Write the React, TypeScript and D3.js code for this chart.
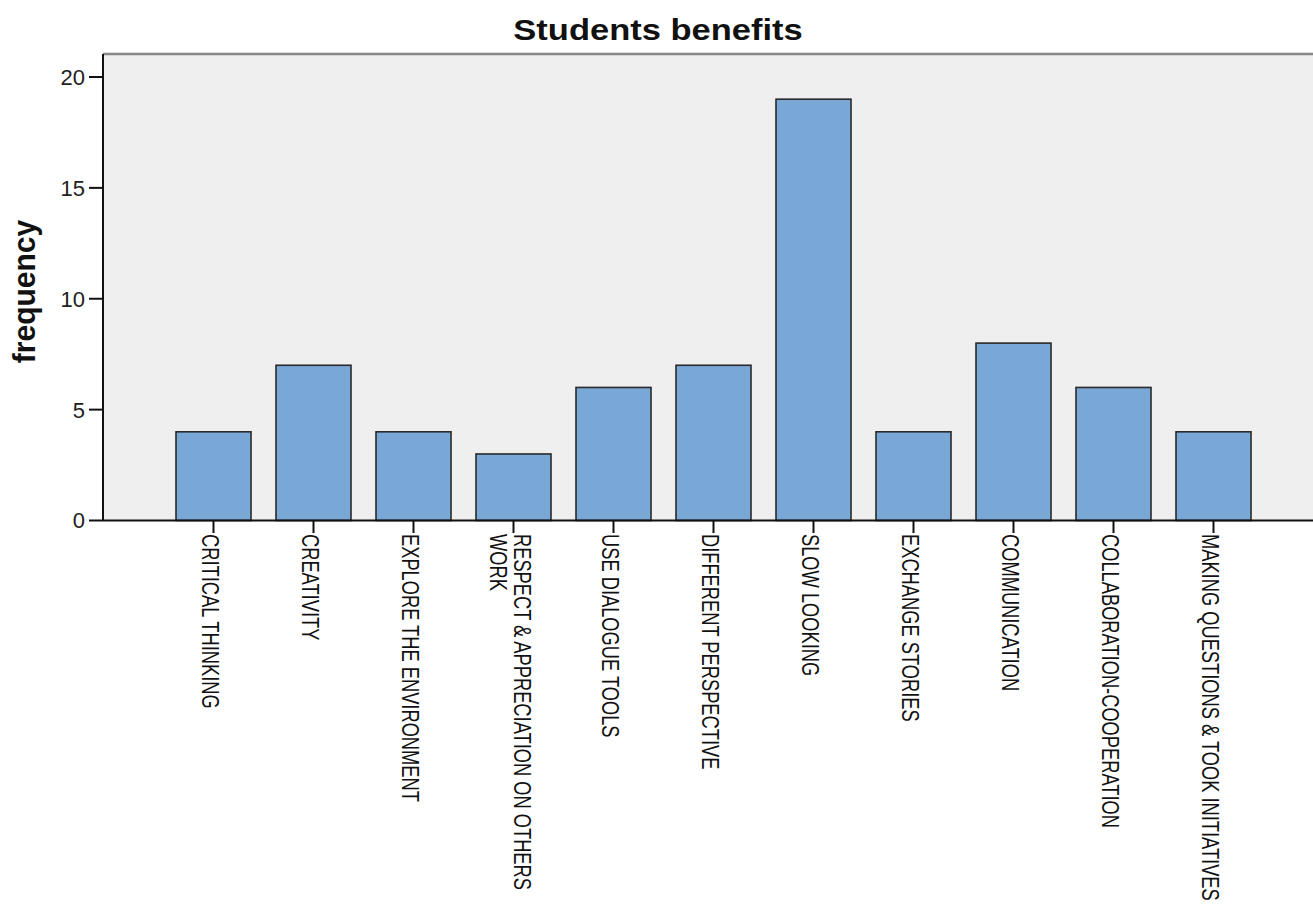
import React from "react";
import * as d3 from "d3";

const title = "Students benefits";
const yAxisTitle = "frequency";
const categories: string[][] = [
  ["CRITICAL THINKING"],
  ["CREATIVITY"],
  ["EXPLORE THE ENVIRONMENT"],
  ["RESPECT & APPRECIATION ON OTHERS", "WORK"],
  ["USE DIALOGUE TOOLS"],
  ["DIFFERENT PERSPECTIVE"],
  ["SLOW LOOKING"],
  ["EXCHANGE STORIES"],
  ["COMMUNICATION"],
  ["COLLABORATION-COOPERATION"],
  ["MAKING QUESTIONS & TOOK INITIATIVES"],
];
const values: number[] = [4, 7, 4, 3, 6, 7, 19, 4, 8, 6, 4];
const yTicks: number[] = [0, 5, 10, 15, 20];

const W = 1313;
const H = 909;
const plotLeft = 103;
const plotTop = 54;
const plotRight = 1313;
const FONT = "'Liberation Sans', Arial, sans-serif";

export default function App() {
  const keys = categories.map((c) => c.join(" "));
  const x = d3
    .scaleBand<string>()
    .domain(keys)
    .range([163.5, 1263.5])
    .paddingInner(0.25)
    .paddingOuter(0.125);
  const y = d3.scaleLinear().domain([0, 20]).range([520.5, 77]);
  const labelFs = 18.3;
  const labelScale = 1.28;
  const lineStep = 24 / labelScale;

  return (
    <svg
      width={W}
      height={H}
      style={{ position: "absolute", left: 0, top: 0, background: "#fff" }}
      fontFamily={FONT}
    >
      <rect x={plotLeft} y={plotTop} width={plotRight - plotLeft} height={y(0) - plotTop} fill="#efefef" />
      <line x1={plotLeft} x2={plotRight} y1={plotTop} y2={plotTop} stroke="#888" strokeWidth={2.5} />
      {values.map((v, i) => (
        <rect
          key={i}
          x={x(keys[i])!}
          y={y(v)}
          width={x.bandwidth()}
          height={y(0) - y(v)}
          fill="#79a8d6"
          stroke="#2a2a2a"
          strokeWidth={1.6}
        />
      ))}
      <line x1={plotLeft} x2={plotLeft} y1={plotTop} y2={y(0)} stroke="#111" strokeWidth={2} />
      <line x1={plotLeft} x2={plotRight} y1={y(0)} y2={y(0)} stroke="#111" strokeWidth={2} />
      {yTicks.map((t) => (
        <g key={t}>
          <line x1={89} x2={plotLeft} y1={y(t)} y2={y(t)} stroke="#111" strokeWidth={2} />
          <text x={85} y={y(t)} dy="0.36em" textAnchor="end" fontSize={22} fill="#222">
            {t}
          </text>
        </g>
      ))}
      {keys.map((k, i) => {
        const cx = x(k)! + x.bandwidth() / 2;
        const lines = categories[i];
        const n = lines.length;
        return (
          <g key={k}>
            <line x1={cx} x2={cx} y1={y(0)} y2={533} stroke="#111" strokeWidth={2} />
            <g transform={`translate(${cx - 3},534) rotate(90) scale(1,${labelScale})`}>
              {lines.map((ln, j) => (
                <text
                  key={j}
                  x={0}
                  y={(j - (n - 1) / 2) * lineStep}
                  dy="0.36em"
                  fontSize={labelFs}
                  fill="#111"
                  style={{ whiteSpace: "pre" }}
                >
                  {ln}
                </text>
              ))}
            </g>
          </g>
        );
      })}
      <g transform="translate(658,40) scale(1.15,1)">
        <text textAnchor="middle" fontSize={30} fontWeight="bold" fill="#111">
          {title}
        </text>
      </g>
      <g transform="translate(35,291.5) rotate(-90) scale(1,1.05)">
        <text textAnchor="middle" fontSize={30} fontWeight="bold" fill="#111">
          {yAxisTitle}
        </text>
      </g>
    </svg>
  );
}
